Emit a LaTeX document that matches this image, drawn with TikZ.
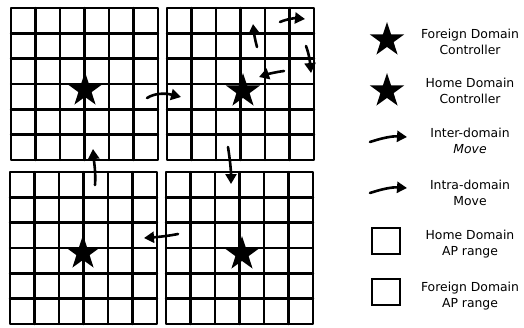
\documentclass[tikz,border=0pt]{standalone}
\usepackage{fontspec}
\setmainfont{DejaVu Sans}
\usetikzlibrary{arrows.meta,shapes.geometric,calc}
\begin{document}
\begin{tikzpicture}[x=1pt,y=-1pt,
  gridline/.style={line width=2.4pt, line cap=round, line join=round},
  gridbox/.style={draw, gridline, minimum width=147pt, minimum height=152pt, inner sep=0pt, outer sep=0pt, anchor=north west},
  ctrl/.style={star, star points=5, star point ratio=2.6, fill=black, minimum size=36pt, inner sep=0pt},
  move/.style={line width=2.6pt, line cap=round, -{Triangle[length=10pt,width=11pt]}},
  legtext/.style={font=\fontsize{12.4}{16}\selectfont, align=center, inner sep=0pt},
  apbox/.style={draw, line width=2.6pt, minimum width=28pt, minimum height=26pt, inner sep=0pt}
]
\useasboundingbox (0,0) rectangle (524,327);

% four domains
\foreach \gx/\gy/\gn in {11/8/tl, 167/8/tr, 10/172/bl, 166/172/br} {
  \node[gridbox] (\gn) at (\gx,\gy) {};
  \foreach \i in {1,...,5} {
    \draw[gridline] ($(\gn.north west)!\i/6!(\gn.north east)$) -- ($(\gn.south west)!\i/6!(\gn.south east)$);
    \draw[gridline] ($(\gn.north west)!\i/6!(\gn.south west)$) -- ($(\gn.north east)!\i/6!(\gn.south east)$);
  }
}

% controllers
\node[ctrl] (ctl) at (85,90) {};
\node[ctrl] (ctr) at (243,91) {};
\node[ctrl] (cbl) at (83,253) {};
\node[ctrl] (cbr) at (242,254) {};

% inter-domain moves
\coordinate (a1s) at (147,98);  \coordinate (a1e) at (181,97);
\coordinate (a2s) at (95,185);  \coordinate (a2e) at (93,149);
\coordinate (a3s) at (228,147); \coordinate (a3e) at (231,184);
\coordinate (a4s) at (178,234); \coordinate (a4e) at (144,238);
\draw[move] (a1s) .. controls (155,93) and (165,93) .. (a1e);
\draw[move] (a2s) .. controls (96,173) and (94,162) .. (a2e);
\draw[move] (a3s) .. controls (230,160) and (231,170) .. (a3e);
\draw[move] (a4s) .. controls (168,236) and (158,237) .. (a4e);

% intra-domain moves
\coordinate (b1s) at (257,47);  \coordinate (b1e) at (253,24);
\coordinate (b2s) at (280,22);  \coordinate (b2e) at (305,19);
\coordinate (b3s) at (306,46);  \coordinate (b3e) at (311,73);
\coordinate (b4s) at (284,71);  \coordinate (b4e) at (259,77);
\draw[move] (b1s) .. controls (255,40) and (254,33) .. (b1e);
\draw[move] (b2s) .. controls (287,19) and (295,18) .. (b2e);
\draw[move] (b3s) .. controls (309,54) and (310,62) .. (b3e);
\draw[move] (b4s) .. controls (276,72) and (268,74) .. (b4e);

% legend
\node[ctrl] (lfc) at (387,40) {};
\node[ctrl] (lhc) at (387,91) {};
\coordinate (lis) at (370,142); \coordinate (lie) at (407,137);
\draw[move] (lis) .. controls (382,138) and (392,136) .. (lie);
\coordinate (lrs) at (370,193); \coordinate (lre) at (407,188);
\draw[move] (lrs) .. controls (382,189) and (392,187) .. (lre);
\node[apbox] (lhap) at (386,241) {};
\node[apbox] (lfap) at (386,292) {};

\node[legtext] (tfc) at (470,42) {Foreign Domain\\Controller};
\node[legtext] (thc) at (470,91) {Home Domain\\Controller};
\node[legtext] (tid) at (470,141) {Inter-domain\\\itshape Move};
\node[legtext] (trd) at (470,193) {Intra-domain\\Move};
\node[legtext] (thap) at (470,244) {Home Domain\\AP range};
\node[legtext] (tfap) at (470,296) {Foreign Domain\\AP range};
\end{tikzpicture}
\end{document}
